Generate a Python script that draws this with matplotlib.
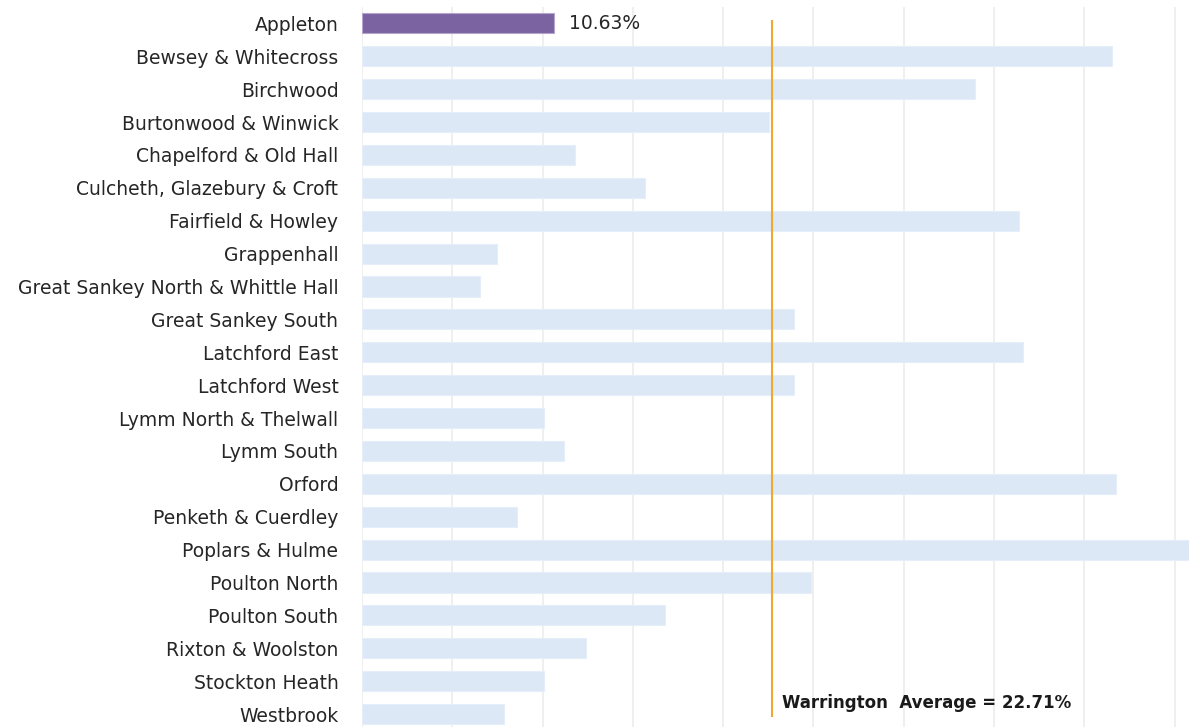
import matplotlib.pyplot as plt
import numpy as np

# ward names, top to bottom
wards = ["Appleton", "Bewsey & Whitecross", "Birchwood", "Burtonwood & Winwick",
         "Chapelford & Old Hall", "Culcheth, Glazebury & Croft", "Fairfield & Howley",
         "Grappenhall", "Great Sankey North & Whittle Hall", "Great Sankey South",
         "Latchford East", "Latchford West", "Lymm North & Thelwall", "Lymm South",
         "Orford", "Penketh & Cuerdley", "Poplars & Hulme", "Poulton North",
         "Poulton South", "Rixton & Woolston", "Stockton Heath", "Westbrook"]
pct = [10.63, 41.55, 33.96, 22.55, 11.80, 15.67, 36.40, 7.47, 6.55, 23.94,
       36.58, 23.94, 10.10, 11.20, 41.73, 8.58, 46.5, 24.86, 16.78, 12.40,
       10.08, 7.86]
highlight = "Appleton"
avg = 22.71

fig = plt.figure(figsize=(11.89, 7.27), dpi=100)
ax = fig.add_axes([362 / 1189, -0.0048, 1 - 362 / 1189, 0.9952])

y = np.arange(len(wards))
cols = ["#7a63a0" if w == highlight else "#dce8f5" for w in wards]
edges = ["#b3a5cc" if w == highlight else "#e6eff9" for w in wards]
ax.barh(y, pct, height=0.61, color=cols, edgecolor=edges, linewidth=0.8, zorder=2)

# gridlines
for gx in np.arange(0, 50, 5):
    ax.axvline(gx, color="#efefef", linewidth=1.4, zorder=1)

# average line + label
ax.axvline(avg, ymin=0.02, ymax=0.98, color="#f0a830", linewidth=1.5, zorder=3)
ax.annotate(f"Warrington  Average = {avg:.2f}%", xy=(avg, 20.65), xytext=(7, 0),
            textcoords="offset points", va="center", ha="left",
            fontsize=12, fontweight="bold", color="#1a1a1a")

# label on highlighted bar
i = wards.index(highlight)
ax.annotate(f"{pct[i]:.2f}%", xy=(pct[i], i), xytext=(11, 0),
            textcoords="offset points", va="center", ha="left",
            fontsize=13.5, color="#262626")

ax.set_xlim(0, 45.8)
ax.set_ylim(len(wards) - 0.5, -0.5)
ax.set_yticks(y)
ax.set_yticklabels(wards, fontsize=13.5, color="#262626")
ax.tick_params(axis="y", length=0, pad=17)
ax.set_xticks([])
for s in ax.spines.values():
    s.set_visible(False)

fig.savefig("out.png", dpi=100)
